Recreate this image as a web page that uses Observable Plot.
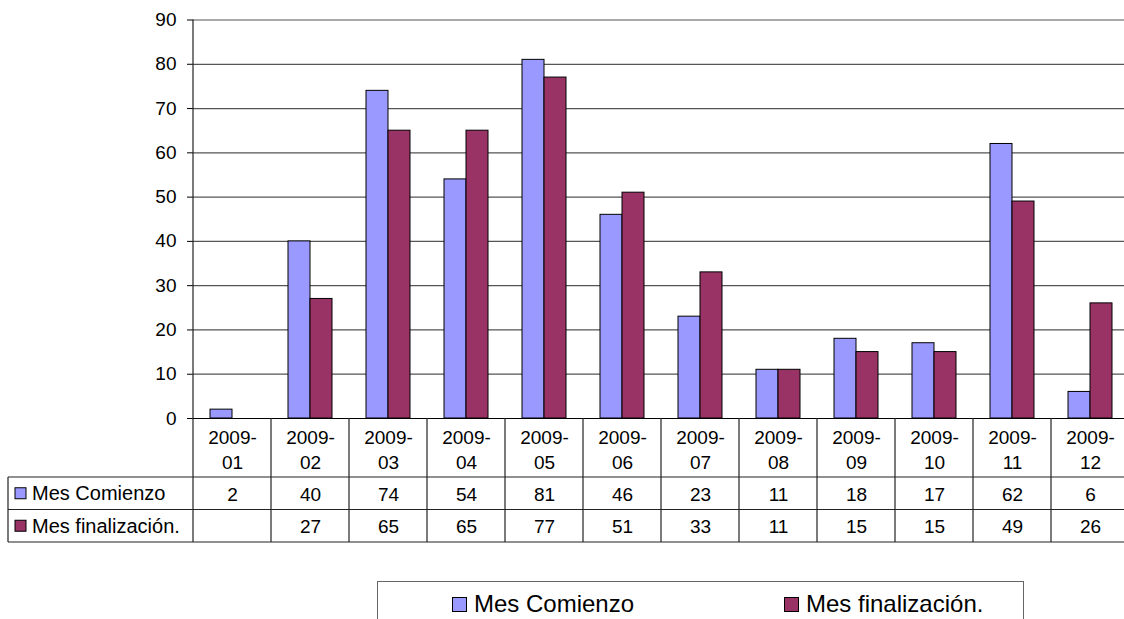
<!DOCTYPE html>
<html>
<head>
<meta charset="utf-8">
<script src="https://cdn.jsdelivr.net/npm/d3@7"></script>
<script src="https://cdn.jsdelivr.net/npm/@observablehq/plot@0.6"></script>
<style>
  html, body { margin: 0; padding: 0; background: #fff; overflow: hidden; }
  #chart svg { display: block; }
  #legend {
    position: relative; box-sizing: border-box;
    margin-left: 377px; margin-top: 21px; width: 647px; height: 60px;
    border: 1px solid #666; border-bottom: none;
    font-family: "Liberation Sans", Arial, sans-serif; font-size: 24px; color: #000;
  }
  .item { position: absolute; top: 7px; display: flex; align-items: center; height: 30px; }
  .sw { width: 13px; height: 13px; border: 1px solid #000; margin-right: 7px; }
</style>
</head>
<body>
<div id="chart"></div>
<div id="legend"></div>
<script>
const months = ["2009-01","2009-02","2009-03","2009-04","2009-05","2009-06","2009-07","2009-08","2009-09","2009-10","2009-11","2009-12"];
const comienzo = [2, 40, 74, 54, 81, 46, 23, 11, 18, 17, 62, 6];
const finalizacion = [null, 27, 65, 65, 77, 51, 33, 11, 15, 15, 49, 26];
const series = ["Mes Comienzo", "Mes finalización."];
const colors = ["#9999FF", "#993366"];
const yTicks = [0, 10, 20, 30, 40, 50, 60, 70, 80, 90];

const rows = months.flatMap((m, i) => [
  {month: m, serie: series[0], value: comienzo[i]},
  {month: m, serie: series[1], value: finalizacion[i]}
]);
const rowsC = rows.filter(d => d.serie === series[0] && d.value != null);
const rowsF = rows.filter(d => d.serie === series[1] && d.value != null);

const W = 1132, H = 560;
const font = "'Liberation Sans', Arial, sans-serif";

const plot = Plot.plot({
  width: W, height: H,
  marginTop: 19.5, marginBottom: H - 418, marginLeft: 190, marginRight: 1,
  style: {fontFamily: font, fontSize: "19px", color: "#000", background: "#fff", maxWidth: "none", overflow: "visible"},
  fx: {domain: months, padding: 0, axis: null, label: null},
  x: {domain: series, paddingInner: 0, paddingOuter: 0.74, axis: null},
  y: {domain: [0, 90], ticks: yTicks, axis: "left", tickSize: 6, tickPadding: 11, label: null},
  color: {domain: series, range: colors},
  marks: [
    Plot.ruleY(yTicks.filter(d => d > 0), {stroke: "#555", strokeWidth: 1.2}),
    Plot.barY(rows.filter(d => d.value != null), {fx: "month", x: "serie", y: "value", fill: "serie", stroke: "#000", strokeWidth: 1}),
    Plot.ruleY([0], {stroke: "#000", strokeWidth: 1}),
    Plot.text(months, {fx: d => d, text: d => d.replace("-", "-\n"), frameAnchor: "bottom", lineAnchor: "middle", dy: 29.5, lineHeight: 1.32, fill: "#000"}),
    Plot.text(rowsC, {fx: "month", text: d => String(d.value), frameAnchor: "bottom", lineAnchor: "middle", dy: 76, fill: "#000"}),
    Plot.text(rowsF, {fx: "month", text: d => String(d.value), frameAnchor: "bottom", lineAnchor: "middle", dy: 108, fill: "#000"})
  ]
});
document.getElementById("chart").appendChild(plot);

// table grid lines, positioned from the library's scales
const fx = plot.scale("fx"), ys = plot.scale("y");
const y0 = ys.apply(0), yTop = ys.apply(90);
const bw = fx.bandwidth;
const xs = months.map(m => fx.apply(m));
const xEnd = xs[xs.length - 1] + bw;
const rowLabelH = 59, rowH = 32.5;
const r1 = y0 + rowLabelH, r2 = r1 + rowH, r3 = r2 + rowH;
const svg = d3.select(plot);
const g = svg.append("g").attr("stroke", "#222").attr("stroke-width", 1.2).attr("fill", "none");
// axis line through table
g.append("line").attr("x1", xs[0]).attr("x2", xs[0]).attr("y1", yTop).attr("y2", r3);
xs.slice(1).concat([xEnd]).forEach(x => g.append("line").attr("x1", x).attr("x2", x).attr("y1", y0).attr("y2", r3));
const xLeft = 8;
[r1, r2, r3].forEach(y => g.append("line").attr("x1", xLeft).attr("x2", xEnd).attr("y1", y).attr("y2", y));
g.append("line").attr("x1", xLeft).attr("x2", xLeft).attr("y1", r1).attr("y2", r3);

// row headers
series.forEach((s, i) => {
  const cy = r1 + rowH * i + rowH / 2;
  svg.append("rect").attr("x", 15).attr("y", cy - 5.5).attr("width", 11).attr("height", 11)
    .attr("fill", colors[i]).attr("stroke", "#000").attr("stroke-width", 1);
  svg.append("text").attr("x", 32).attr("y", cy).attr("dy", "0.35em").attr("text-anchor", "start")
    .attr("font-family", font).attr("font-size", 20).attr("fill", "#000").text(s);
});

// legend
const legend = document.getElementById("legend");
const lefts = [74, 406];
series.forEach((s, i) => {
  const it = document.createElement("div");
  it.className = "item";
  it.style.left = lefts[i] + "px";
  it.innerHTML = `<div class="sw" style="background:${colors[i]}"></div><span>${s}</span>`;
  legend.appendChild(it);
});
</script>
</body>
</html>
